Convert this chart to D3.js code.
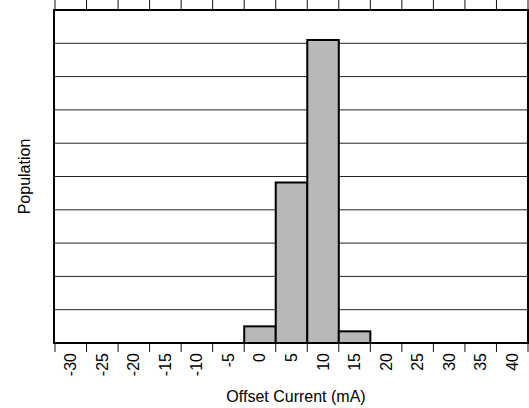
<!DOCTYPE html>
<html>
<head>
<meta charset="utf-8">
<script src="https://cdn.jsdelivr.net/npm/d3@7"></script>
<style>
  body { margin: 0; background: #fff; }
  svg { display: block; font-family: "Liberation Sans", Arial, sans-serif; }
</style>
</head>
<body>
<svg id="chart"></svg>
<script>
const width = 529;
const height = 408;
const margin = { top: 10, right: 1, bottom: 65, left: 54 };

// bin labels (mA) and population per bin (% of units)
const bins = ["-30", "-25", "-20", "-15", "-10", "-5", "0", "5", "10", "15", "20", "25", "30", "35", "40"];
const population = [0, 0, 0, 0, 0, 0, 2.5, 24.1, 45.5, 1.75, 0, 0, 0, 0, 0];
const yTicks = [5, 10, 15, 20, 25, 30, 35, 40, 45];

const svg = d3.select("#chart").attr("width", width).attr("height", height);

const x = d3
  .scaleBand()
  .domain(bins)
  .range([margin.left + 1, width - margin.right])
  .padding(0);

const y = d3
  .scaleLinear()
  .domain([0, 50])
  .range([height - margin.bottom, margin.top]);

// horizontal grid lines
svg
  .append("g")
  .selectAll("line")
  .data(yTicks)
  .enter()
  .append("line")
  .attr("x1", margin.left)
  .attr("x2", width - margin.right)
  .attr("y1", (d) => y(d))
  .attr("y2", (d) => y(d))
  .attr("stroke", "#222")
  .attr("stroke-width", 1);

// bars
svg
  .append("g")
  .selectAll("rect")
  .data(population.map((v, i) => ({ bin: bins[i], v: v })).filter((d) => d.v > 0))
  .enter()
  .append("rect")
  .attr("x", (d) => x(d.bin))
  .attr("y", (d) => y(d.v))
  .attr("width", x.bandwidth())
  .attr("height", (d) => y(0) - y(d.v))
  .attr("fill", "#b8b8b8")
  .attr("stroke", "#000")
  .attr("stroke-width", 2);

// bin edges for tick marks
const edges = bins.map((b) => x(b)).concat([x(bins[bins.length - 1]) + x.bandwidth()]);

// top tick marks
svg
  .append("g")
  .selectAll("line")
  .data(edges)
  .enter()
  .append("line")
  .attr("x1", (d) => d)
  .attr("x2", (d) => d)
  .attr("y1", 0)
  .attr("y2", margin.top)
  .attr("stroke", "#111")
  .attr("stroke-width", 1);

// bottom tick marks
svg
  .append("g")
  .selectAll("line")
  .data(edges)
  .enter()
  .append("line")
  .attr("x1", (d) => d)
  .attr("x2", (d) => d)
  .attr("y1", y(0))
  .attr("y2", y(0) + 9)
  .attr("stroke", "#111")
  .attr("stroke-width", 1);

// plot frame
svg
  .append("rect")
  .attr("x", margin.left)
  .attr("y", margin.top)
  .attr("width", width - margin.left - margin.right)
  .attr("height", height - margin.top - margin.bottom)
  .attr("fill", "none")
  .attr("stroke", "#000")
  .attr("stroke-width", 2);

// rotated bin labels
svg
  .append("g")
  .selectAll("text")
  .data(bins)
  .enter()
  .append("text")
  .attr("transform", (d) => `translate(${x(d) + x.bandwidth() / 2 + 5.5},${y(0) + 10}) rotate(-90)`)
  .attr("text-anchor", "end")
  .style("font-size", "16px")
  .text((d) => d);

// axis titles
svg
  .append("text")
  .attr("x", 296)
  .attr("y", 402)
  .attr("text-anchor", "middle")
  .style("font-size", "16px")
  .text("Offset Current (mA)");

svg
  .append("text")
  .attr("transform", `translate(30,${(margin.top + height - margin.bottom) / 2}) rotate(-90)`)
  .attr("text-anchor", "middle")
  .style("font-size", "16px")
  .text("Population");
</script>
</body>
</html>
